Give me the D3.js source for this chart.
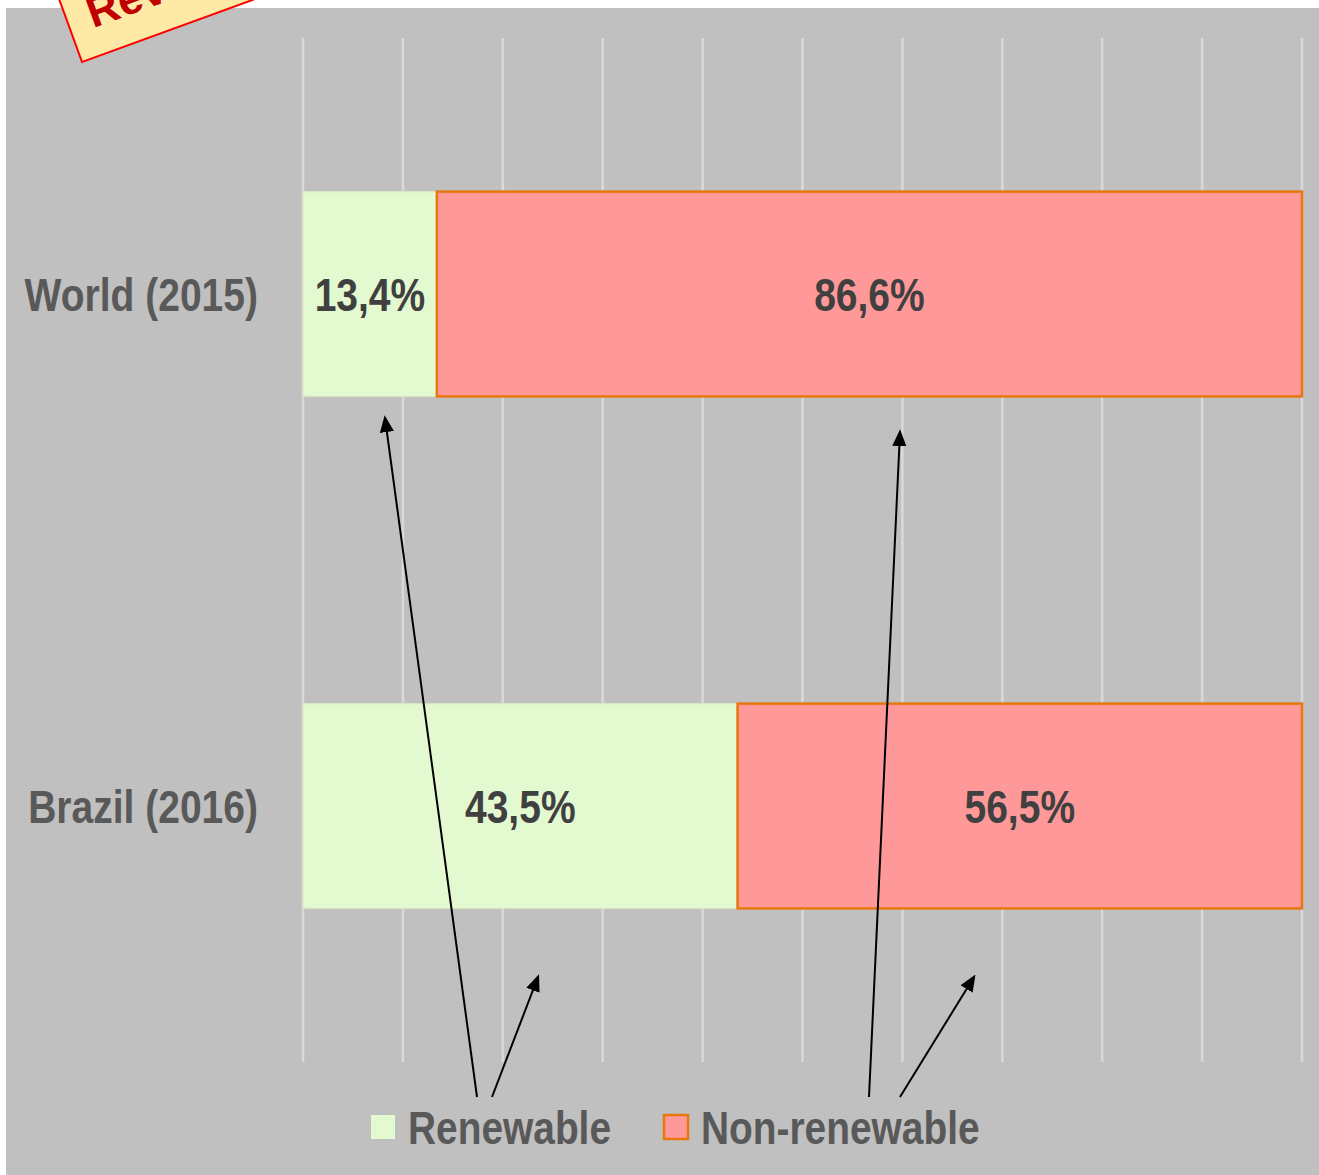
<!DOCTYPE html>
<html>
<head>
<meta charset="utf-8">
<script src="https://cdn.jsdelivr.net/npm/d3@7"></script>
<style>
  html, body { margin: 0; padding: 0; background: #fff; overflow: hidden; }
  svg { display: block; }
  text { font-family: "Liberation Sans Narrow", "Arial Narrow", "Liberation Sans", sans-serif; font-weight: bold; }
</style>
</head>
<body>
<div id="chart"></div>
<script>
var categories = ['World (2015)', 'Brazil (2016)']
var renewable = [13.4, 43.5]
var nonRenewable = [86.6, 56.5]
var seriesNames = ['Renewable', 'Non-renewable']
var xTicks = [0, 10, 20, 30, 40, 50, 60, 70, 80, 90, 100]

var width = 1319
var height = 1175
var fills = ['#E3F9D0', '#FF9999']
var strokes = ['#D3E8C2', '#E8780C']
var narrow = 0.83 // no narrow font installed, so squeeze horizontally

var svg = d3.select('#chart').append('svg')
  .attr('width', width)
  .attr('height', height)

// grey chart area
svg.append('rect')
  .attr('x', 6).attr('y', 8)
  .attr('width', width - 6).attr('height', height - 8)
  .attr('fill', '#C0C0C0')

var x = d3.scaleLinear().domain([0, 100]).range([303, 1302])
var y = d3.scaleBand().domain(categories).range([38, 1062])
  .paddingInner(0.6).paddingOuter(0.3)

// vertical gridlines
svg.append('g').selectAll('line').data(xTicks).join('line')
  .attr('x1', d => x(d)).attr('x2', d => x(d))
  .attr('y1', 38).attr('y2', 1062)
  .attr('stroke', '#D9D9D9')
  .attr('stroke-width', 2.5)

var rows = categories.map((c, i) => ({cat: c, parts: [
  {s: 0, x0: 0, x1: renewable[i], v: renewable[i]},
  {s: 1, x0: renewable[i], x1: renewable[i] + nonRenewable[i], v: nonRenewable[i]}
]}))

var fmt = v => v.toFixed(1).replace('.', ',') + '%'
var place = (px, py, k) => 'translate(' + px + ',' + py + ') scale(' + (k || narrow) + ',1)'

var rowSel = svg.append('g').selectAll('g').data(rows).join('g')
  .attr('transform', d => 'translate(0,' + y(d.cat) + ')')

rowSel.selectAll('rect').data(d => d.parts).join('rect')
  .attr('x', d => x(d.x0))
  .attr('width', d => x(d.x1) - x(d.x0))
  .attr('height', y.bandwidth())
  .attr('fill', d => fills[d.s])
  .attr('stroke', d => strokes[d.s])
  .attr('stroke-width', d => d.s ? 2.5 : 1.2)

rowSel.selectAll('text.val').data(d => d.parts).join('text')
  .attr('class', 'val')
  .attr('transform', d => place((x(d.x0) + x(d.x1)) / 2, y.bandwidth() / 2))
  .attr('dy', '0.36em')
  .attr('text-anchor', 'middle')
  .attr('fill', '#404040')
  .style('font-size', '47px')
  .text(d => fmt(d.v))

// category labels
svg.append('g').selectAll('text').data(categories).join('text')
  .attr('transform', d => place(258, y(d) + y.bandwidth() / 2))
  .attr('dy', '0.36em')
  .attr('text-anchor', 'end')
  .attr('fill', '#595959')
  .style('font-size', '47px')
  .text(d => d)

// legend
var legend = svg.append('g').attr('transform', 'translate(0,1127)')
var legendX = [371, 664]
legend.selectAll('rect').data(seriesNames).join('rect')
  .attr('x', (d, i) => legendX[i])
  .attr('y', -12)
  .attr('width', 24).attr('height', 24)
  .attr('fill', (d, i) => fills[i])
  .attr('stroke', (d, i) => i ? strokes[i] : 'none')
  .attr('stroke-width', 2.5)
legend.selectAll('text').data(seriesNames).join('text')
  .attr('transform', (d, i) => place(legendX[i] + 37, 0, 0.845))
  .attr('dy', '0.36em')
  .attr('fill', '#595959')
  .style('font-size', '46px')
  .text(d => d)

// annotation arrows
svg.append('defs').append('marker')
  .attr('id', 'arrow')
  .attr('viewBox', '-10 -6 12 12')
  .attr('markerWidth', 8.5)
  .attr('markerHeight', 8.5)
  .attr('refX', 0).attr('refY', 0)
  .attr('orient', 'auto')
  .attr('markerUnits', 'strokeWidth')
  .append('path')
  .attr('d', 'M-10,-5 L2,0 L-10,5 Z')
  .attr('fill', '#000')

var arrows = [
  [477, 1097, 385, 418],
  [492, 1097, 538, 977],
  [869, 1097, 900, 432],
  [900, 1097, 974, 977]
]
svg.append('g').selectAll('line').data(arrows).join('line')
  .attr('x1', d => d[0]).attr('y1', d => d[1])
  .attr('x2', d => d[2]).attr('y2', d => d[3])
  .attr('stroke', '#000')
  .attr('stroke-width', 2)
  .attr('marker-end', 'url(#arrow)')

// stamp in the corner
var stamp = svg.append('g').attr('transform', 'translate(82,62) rotate(-20)')
stamp.append('rect')
  .attr('x', 0).attr('y', -110)
  .attr('width', 250).attr('height', 110)
  .attr('fill', '#FFE9A6')
  .attr('stroke', '#FF0000')
  .attr('stroke-width', 2)
stamp.append('text')
  .attr('x', 22).attr('y', -28)
  .attr('fill', '#C00000')
  .style('font-family', '"Liberation Sans", Arial, sans-serif')
  .style('font-size', '44px')
  .text('Revised')
</script>
</body>
</html>
